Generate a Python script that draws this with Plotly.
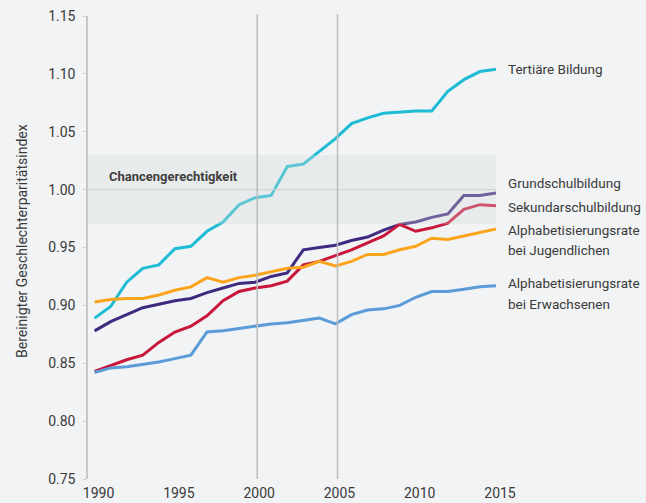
import plotly.graph_objects as go

years = list(range(1990, 2016))

tertiary = [0.889, 0.899, 0.920, 0.932, 0.935, 0.949, 0.951, 0.964, 0.972, 0.987, 0.993,
            0.995, 1.020, 1.022, 1.033, 1.044, 1.057, 1.062, 1.066, 1.067, 1.068,
            1.068, 1.085, 1.095, 1.102, 1.104]
primary = [0.878, 0.886, 0.892, 0.898, 0.901, 0.904, 0.906, 0.911, 0.915, 0.919, 0.920,
           0.925, 0.928, 0.948, 0.950, 0.952, 0.956, 0.959, 0.965, 0.970, 0.972,
           0.976, 0.979, 0.995, 0.995, 0.997]
secondary = [0.843, 0.848, 0.853, 0.857, 0.868, 0.877, 0.882, 0.891, 0.904, 0.912, 0.915,
             0.917, 0.921, 0.935, 0.938, 0.943, 0.948, 0.954, 0.960, 0.970, 0.964,
             0.967, 0.971, 0.983, 0.987, 0.986]
youth_lit = [0.903, 0.905, 0.906, 0.906, 0.909, 0.913, 0.916, 0.924, 0.920, 0.924, 0.926,
             0.929, 0.932, 0.933, 0.938, 0.934, 0.938, 0.944, 0.944, 0.948, 0.951,
             0.958, 0.957, 0.960, 0.963, 0.966]
adult_lit = [0.842, 0.846, 0.847, 0.849, 0.851, 0.854, 0.857, 0.877, 0.878, 0.880, 0.882,
             0.884, 0.885, 0.887, 0.889, 0.884, 0.892, 0.896, 0.897, 0.900, 0.907,
             0.912, 0.912, 0.914, 0.916, 0.917]

series_names = ["Tertiäre Bildung", "Grundschulbildung", "Sekundarschulbildung",
                "Alphabetisierungsrate bei Jugendlichen", "Alphabetisierungsrate bei Erwachsenen"]
series_values = [tertiary, primary, secondary, youth_lit, adult_lit]
series_colors = ["#1ebcd4", "#3f2a80", "#c8173a", "#fba41c", "#5a9bd8"]

label_lines = [["Tertiäre Bildung"], ["Grundschulbildung"], ["Sekundarschulbildung"],
               ["Alphabetisierungsrate", "bei Jugendlichen"],
               ["Alphabetisierungsrate", "bei Erwachsenen"]]

y_ticks = [0.75, 0.80, 0.85, 0.90, 0.95, 1.00, 1.05, 1.10, 1.15]
x_ticks = [1990, 1995, 2000, 2005, 2010, 2015]
band_low, band_high = 0.97, 1.03
parity = 1.00
markers = [2000, 2005]
band_label = "Chancengerechtigkeit"
y_title = "Bereinigter Geschlechterparitätsindex"

FONT = "Roboto, Liberation Sans, sans-serif"
TXT = "#3a3a3a"
W, H = 646, 503
M_L, M_R, M_T, M_B = 88, 150, 16, 24
Y0, Y1 = 0.75, 1.15


def px_to_val(ypx):
    return Y1 - (ypx - M_T) / (H - M_T - M_B) * (Y1 - Y0)


fig = go.Figure()
for name, vals, col in zip(series_names, series_values, series_colors):
    fig.add_trace(go.Scatter(x=years, y=vals, mode="lines", name=name,
                             line=dict(color=col, width=3), showlegend=False,
                             hoverinfo="skip"))

shapes = [
    dict(type="rect", xref="paper", yref="y", x0=0, x1=1, y0=band_low, y1=band_high,
         fillcolor="rgba(216,218,214,0.32)", line=dict(width=0), layer="above"),
    dict(type="line", xref="paper", yref="y", x0=0, x1=1, y0=parity, y1=parity,
         line=dict(color="#d3d3d3", width=1.2), layer="above"),
]
for m in markers:
    shapes.append(dict(type="line", xref="x", yref="paper", x0=m + 0.13, x1=m + 0.13,
                       y0=0, y1=1.004, line=dict(color="#bdbdbd", width=1.5), layer="above"))

# label pixel centres (layout)
label_y_px = [[68.5], [183], [206.5], [230, 250], [283, 303.5]]
annotations = []
for lines, ys in zip(label_lines, label_y_px):
    for t, ypx in zip(lines, ys):
        annotations.append(dict(text=t, xref="paper", x=1, xshift=10, xanchor="left",
                                yref="y", y=px_to_val(ypx), yanchor="middle",
                                showarrow=False, font=dict(family=FONT, size=13.5, color=TXT)))
annotations.append(dict(text="<b>" + band_label + "</b>", xref="paper", x=0, xshift=19,
                        xanchor="left", yref="y", y=px_to_val(176.5), yanchor="middle",
                        showarrow=False, font=dict(family=FONT, size=13, color="#404040")))
annotations.append(dict(text=y_title, xref="paper", x=0, xshift=-66.5, xanchor="center",
                        yref="y", y=px_to_val(241.5), yanchor="middle", textangle=-90,
                        showarrow=False, font=dict(family=FONT, size=14, color=TXT)))

fig.update_layout(
    width=W, height=H,
    margin=dict(l=M_L, r=M_R, t=M_T, b=M_B, pad=0, autoexpand=False),
    paper_bgcolor="#f1f3f5", plot_bgcolor="#f1f3f5",
    font=dict(family=FONT, size=14, color=TXT),
    shapes=shapes, annotations=annotations,
    xaxis=dict(range=[1989.59, 2015], tickvals=x_ticks, ticktext=[str(v) for v in x_ticks],
               showgrid=False, zeroline=False, showline=False, ticks="", automargin=False,
               tickfont=dict(family=FONT, size=14, color=TXT), ticklabelshift=4,
               ticklabelstandoff=4),
    yaxis=dict(range=[Y0, Y1], tickvals=y_ticks, ticktext=[f"{v:.2f}" for v in y_ticks],
               showgrid=False, zeroline=False, showline=True, linecolor="#c8c8c8",
               linewidth=1.5, ticks="outside", ticklen=3, tickcolor="#c8c8c8", tickwidth=1,
               automargin=False,
               tickfont=dict(family=FONT, size=14, color=TXT), ticklabelstandoff=5),
)

fig.write_html("out.html", config={"displayModeBar": False},
               post_script="document.body.style.margin='0';document.body.style.overflow='hidden';document.body.style.background='#f1f3f5';")
